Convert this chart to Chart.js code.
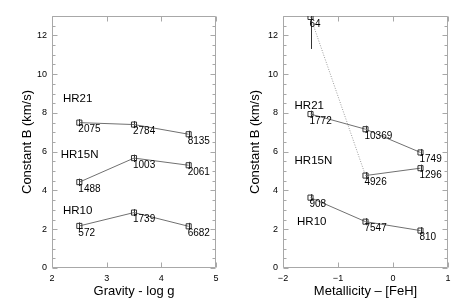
<!DOCTYPE html>
<html>
<head>
<meta charset="utf-8">
<script src="https://cdn.jsdelivr.net/npm/chart.js@4/dist/chart.umd.min.js"></script>
<style>
  html, body { margin: 0; padding: 0; background: #fff; }
  .panel { position: absolute; top: 0; height: 301px; }
</style>
</head>
<body>
<div class="panel" style="left:0;width:231px"><canvas id="left" width="231" height="301"></canvas></div>
<div class="panel" style="left:231px;width:232px"><canvas id="right" width="232" height="301"></canvas></div>
<script>
// ---------- data ----------
const seriesNames = ['HR21', 'HR15N', 'HR10'];

const gravityX = [2.5, 3.5, 4.5];
const hr21Gravity = [7.5, 7.4, 6.9];
const hr15nGravity = [4.43, 5.67, 5.3];
const hr10Gravity = [2.17, 2.86, 2.15];
const hr21GravityN = ['2075', '2784', '8135'];
const hr15nGravityN = ['1488', '1003', '2061'];
const hr10GravityN = ['572', '1739', '6682'];
const hr21GravityErr = [0.18, 0.18, 0.18];
const hr15nGravityErr = [0.18, 0.18, 0.18];
const hr10GravityErr = [0.18, 0.18, 0.18];

const metalX = [-1.5, -0.5, 0.5];
const hr21Metal = [7.94, 7.16, 5.96];
const hr15nMetal = [12.95, 4.77, 5.15];
const hr10Metal = [3.63, 2.39, 1.93];
const hr21MetalN = ['1772', '10369', '1749'];
const hr15nMetalN = ['64', '4926', '1296'];
const hr10MetalN = ['908', '7547', '810'];
const hr21MetalErr = [0.18, 0.18, 0.18];
const hr15nMetalErr = [1.65, 0.18, 0.18];
const hr10MetalErr = [0.18, 0.18, 0.18];

const yTicks = [0, 2, 4, 6, 8, 10, 12];
const gravityTicks = [2, 3, 4, 5];
const metalTicks = [-2, -1, 0, 1];

// ---------- helpers ----------
const FONT = "'Liberation Sans', Arial, Helvetica, sans-serif";
const pts = (xs, ys) => xs.map((x, i) => ({ x: x, y: ys[i] }));

function makeDataset(name, xs, ys, counts, errs, extra) {
  return Object.assign({
    label: name,
    data: pts(xs, ys),
    counts: counts,
    errors: errs,
    showLine: true,
    borderColor: '#707070',
    borderWidth: 1,
    pointStyle: 'rect',
    pointRadius: 3.6,
    pointHoverRadius: 3.6,
    pointBorderColor: '#333',
    pointBorderWidth: 1,
    pointBackgroundColor: 'rgba(0,0,0,0)',
    tension: 0
  }, extra || {});
}

const framePlugin = {
  id: 'frameTicks',
  beforeDatasetsDraw(chart) {
    const { ctx, chartArea: a, scales: { x, y } } = chart;
    const L = Math.round(a.left) + 0.5, R = Math.round(a.right) - 0.5;
    const T = Math.round(a.top) + 0.5, B = Math.round(a.bottom) - 0.5;
    ctx.save();
    ctx.strokeStyle = '#a8a8a8';
    ctx.lineWidth = 1;
    ctx.beginPath();
    ctx.rect(L, T, R - L, B - T);
    // y ticks (major + minor every 0.5)
    for (let k = 0; k <= 26; k++) {
      const v = k * 0.5;
      if (v > y.max) break;
      const major = yTicks.indexOf(v) >= 0;
      const len = major ? 5 : 3;
      const py = Math.round(y.getPixelForValue(v)) + 0.5;
      ctx.moveTo(L, py); ctx.lineTo(L + len, py);
      ctx.moveTo(R, py); ctx.lineTo(R - len, py);
    }
    // x ticks
    const xt = chart.options.xTickValues;
    xt.forEach(v => {
      const px = Math.round(x.getPixelForValue(v)) + 0.5;
      ctx.moveTo(px, B); ctx.lineTo(px, B - 5);
      ctx.moveTo(px, T); ctx.lineTo(px, T + 5);
    });
    ctx.stroke();

    // error bars
    ctx.save();
    ctx.beginPath();
    ctx.rect(a.left, a.top, a.right - a.left, a.bottom - a.top);
    ctx.clip();
    ctx.strokeStyle = '#333';
    ctx.beginPath();
    chart.data.datasets.forEach((ds, di) => {
      if (!ds.errors) return;
      const meta = chart.getDatasetMeta(di);
      meta.data.forEach((el, i) => {
        const v = ds.data[i].y, e = ds.errors[i];
        const px = Math.round(el.x) + 0.5;
        ctx.moveTo(px, y.getPixelForValue(v + e));
        ctx.lineTo(px, y.getPixelForValue(v - e));
      });
    });
    ctx.stroke();
    ctx.restore();
    ctx.restore();
  },
  afterDatasetsDraw(chart) {
    const { ctx, scales: { x, y } } = chart;
    ctx.save();
    ctx.fillStyle = '#000';
    // counts under points
    ctx.font = '10px ' + FONT;
    ctx.textAlign = 'left';
    ctx.textBaseline = 'top';
    chart.data.datasets.forEach((ds, di) => {
      if (!ds.counts) return;
      const meta = chart.getDatasetMeta(di);
      meta.data.forEach((el, i) => {
        ctx.fillText(ds.counts[i], el.x - 1, el.y + 2);
      });
    });
    // series annotations
    ctx.font = '11.5px ' + FONT;
    ctx.textBaseline = 'middle';
    (chart.options.seriesLabels || []).forEach(l => {
      ctx.fillText(l.text, x.getPixelForValue(l.x), y.getPixelForValue(l.y));
    });
    ctx.restore();
  }
};

function makeChart(id, datasets, xMin, xMax, xTicks, xTitle, yTitlePad, labels) {
  return new Chart(document.getElementById(id), {
    type: 'scatter',
    data: { datasets: datasets },
    plugins: [framePlugin],
    options: {
      responsive: false,
      animation: false,
      events: [],
      xTickValues: xTicks,
      seriesLabels: labels,
      layout: { padding: { top: 16, right: 15, left: 0, bottom: 0 } },
      plugins: { legend: { display: false }, tooltip: { enabled: false } },
      scales: {
        x: {
          type: 'linear',
          min: xMin, max: xMax,
          afterBuildTicks: s => { s.ticks = xTicks.map(v => ({ value: v })); },
          afterFit: s => { s.height = 33; },
          grid: { display: false, drawTicks: false },
          border: { display: false },
          ticks: {
            padding: 5,
            color: '#000',
            font: { family: FONT, size: 9 },
            maxRotation: 0,
            callback: v => (v < 0 ? '\u2212' + Math.abs(v) : String(v))
          },
          title: {
            display: true, text: xTitle, color: '#000',
            font: { family: FONT, size: 13 },
            padding: { top: 0, bottom: 2 }
          }
        },
        y: {
          type: 'linear',
          min: 0, max: 13,
          afterBuildTicks: s => { s.ticks = yTicks.map(v => ({ value: v })); },
          afterFit: s => { s.width = 52; },
          grid: { display: false, drawTicks: false },
          border: { display: false },
          ticks: {
            padding: 5,
            color: '#000',
            font: { family: FONT, size: 9 }
          },
          title: {
            display: true, text: 'Constant B (km/s)', color: '#000',
            font: { family: FONT, size: 13 },
            padding: { top: yTitlePad, bottom: 0 }
          }
        }
      }
    }
  });
}

makeChart('left', [
  makeDataset('HR21', gravityX, hr21Gravity, hr21GravityN, hr21GravityErr),
  makeDataset('HR15N', gravityX, hr15nGravity, hr15nGravityN, hr15nGravityErr),
  makeDataset('HR10', gravityX, hr10Gravity, hr10GravityN, hr10GravityErr)
], 2, 5, gravityTicks, 'Gravity - log g', 20, [
  { text: seriesNames[0], x: 2.2, y: 8.73 },
  { text: seriesNames[1], x: 2.16, y: 5.84 },
  { text: seriesNames[2], x: 2.2, y: 2.94 }
]);

makeChart('right', [
  makeDataset('HR21', metalX, hr21Metal, hr21MetalN, hr21MetalErr),
  makeDataset('HR15N', metalX, hr15nMetal, hr15nMetalN, hr15nMetalErr, {
    segment: {
      borderDash: c => (c.p0DataIndex === 0 ? [1, 1.5] : undefined),
      borderColor: c => (c.p0DataIndex === 0 ? '#9a9a9a' : undefined)
    }
  }),
  makeDataset('HR10', metalX, hr10Metal, hr10MetalN, hr10MetalErr)
], -2, 1, metalTicks, 'Metallicity \u2013 [FeH]', 17, [
  { text: seriesNames[0], x: -1.79, y: 8.37 },
  { text: seriesNames[1], x: -1.79, y: 5.53 },
  { text: seriesNames[2], x: -1.745, y: 2.38 }
]);
</script>
</body>
</html>
